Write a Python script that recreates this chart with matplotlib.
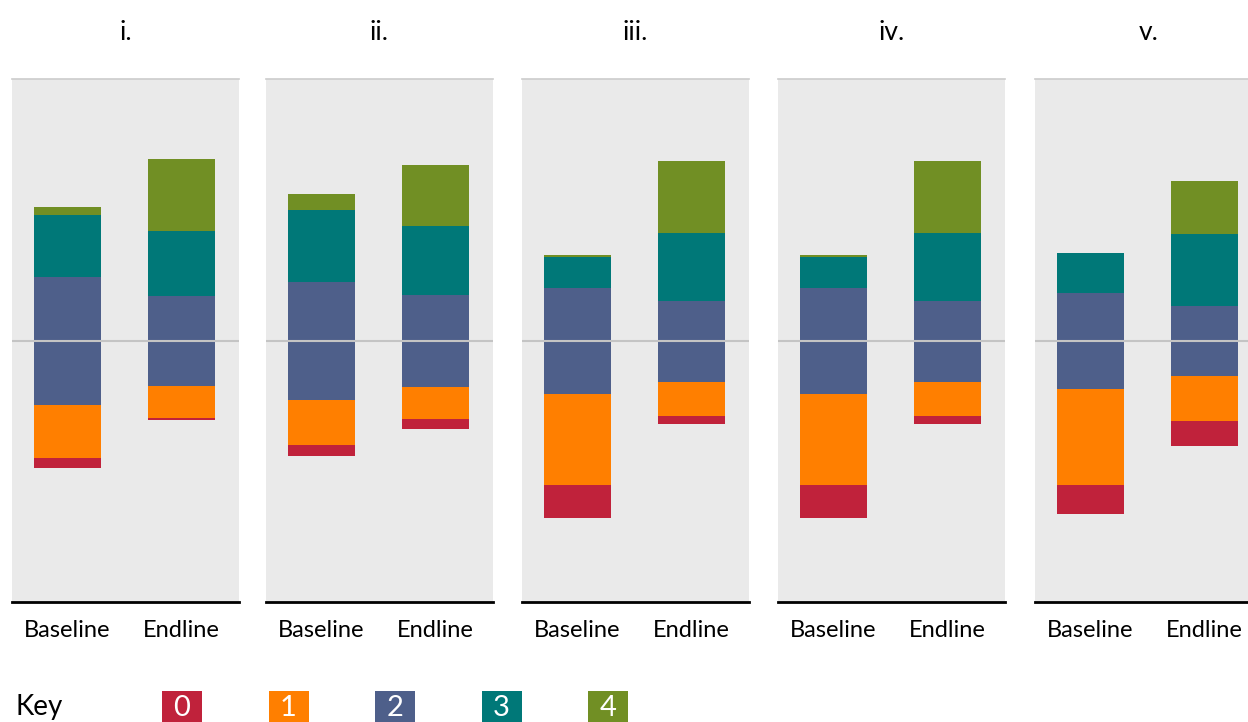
import numpy as np
import matplotlib.pyplot as plt
from matplotlib.patches import Rectangle

plt.rcParams['font.family'] = ['Lato', 'DejaVu Sans']

panels = ['i.', 'ii.', 'iii.', 'iv.', 'v.']
periods = ['Baseline', 'Endline']
levels = ['0', '1', '2', '3', '4']
colors = ['#C0223B', '#FF7F00', '#4E5F8A', '#007878', '#718F24']

# share (%) per score level, one value per panel
base_0 = [3.8, 4.2, 12.6, 12.6, 11.0]
base_1 = [20.2, 17.3, 34.4, 34.4, 36.6]
base_2 = [49.0, 44.9, 40.8, 40.8, 36.9]
base_3 = [23.6, 27.5, 11.5, 11.5, 15.2]
base_4 = [3.0, 6.1, 0.8, 0.8, 0.0]

end_0 = [0.8, 3.8, 3.1, 3.1, 9.6]
end_1 = [12.2, 12.2, 13.0, 13.0, 17.2]
end_2 = [34.6, 34.8, 30.9, 30.9, 26.6]
end_3 = [24.7, 26.6, 25.6, 25.6, 27.5]
end_4 = [27.4, 23.3, 27.5, 27.5, 20.2]

baseline = np.array([base_0, base_1, base_2, base_3, base_4])
endline = np.array([end_0, end_1, end_2, end_3, end_4])

W, H = 1248, 722
fig = plt.figure(figsize=(W / 100, H / 100), dpi=100)

x = np.arange(len(periods))
bar_w = 0.588
panel_left = [12, 266, 522, 778, 1035]

for p, name in enumerate(panels):
    left_px = panel_left[p]
    ax = fig.add_axes([left_px / W, (H - 602) / H, 227 / W, 523 / H])
    ax.set_facecolor('#EAEAEA')

    for j, data in enumerate([baseline, endline]):
        vals = data[:, p]
        # diverging stack: level 2 split across the zero line
        start = -(vals[0] + vals[1] + vals[2] / 2)
        for k in range(len(levels)):
            ax.bar(x[j], vals[k], bottom=start, width=bar_w,
                   color=colors[k], linewidth=0, zorder=2)
            start += vals[k]

    ax.axhline(0, color='#C4C4C4', lw=1.5, zorder=3)
    ax.set_xlim(-0.487, 1.504)
    ax.set_ylim(-99.6, 100)
    ax.set_yticks([])
    ax.set_xticks(x)
    ax.set_xticklabels(periods, fontsize=17)
    ax.tick_params(axis='x', length=0, pad=13)
    for s in ['left', 'right']:
        ax.spines[s].set_visible(False)
    ax.spines['top'].set_color('#CCCCCC')
    ax.spines['top'].set_linewidth(1.2)
    ax.spines['bottom'].set_color('black')
    ax.spines['bottom'].set_linewidth(2)

    fig.text((left_px + 113.5) / W, 1 - 32 / H, name, fontsize=19,
             ha='center', va='center')

# key
fig.text(15 / W, 1 - 707 / H, 'Key', fontsize=20,
         ha='left', va='center')
for k, lab in enumerate(levels):
    bx = 162 + k * 106.5
    fig.patches.append(Rectangle((bx / W, 0), 40 / W, 31 / H,
                                 transform=fig.transFigure,
                                 color=colors[k], linewidth=0))
    fig.text((bx + 20) / W, 1 - 708 / H, lab, fontsize=21, color='white',
             ha='center', va='center')

fig.savefig('out.png', dpi=100)
